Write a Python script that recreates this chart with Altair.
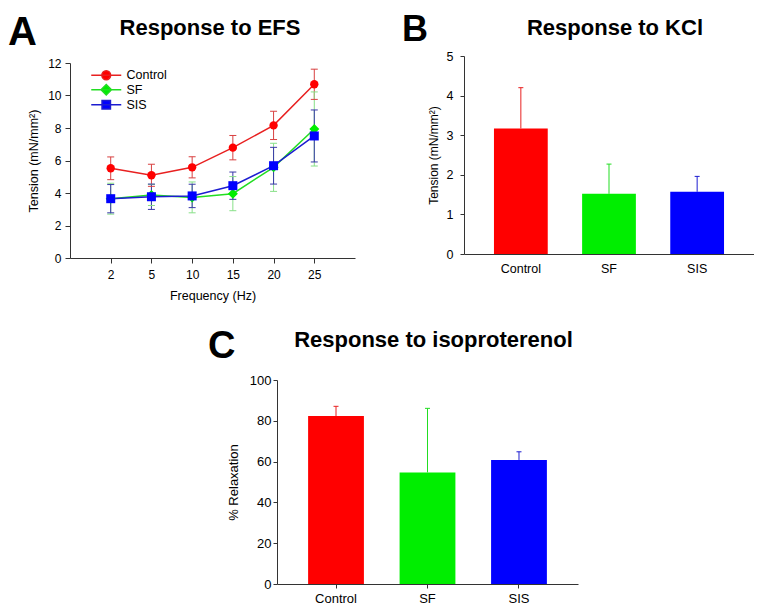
import altair as alt
import pandas as pd

FONT = "Liberation Sans"

# ---------------- data ----------------
series = ["Control", "SF", "SIS"]
freqs = ["2", "5", "10", "15", "20", "25"]

efs_control = [5.52, 5.09, 5.58, 6.79, 8.16, 10.69]
efs_control_err = [0.70, 0.68, 0.65, 0.75, 0.87, 0.93]
efs_sf = [3.65, 3.88, 3.73, 3.96, 5.58, 7.94]
efs_sf_err = [0.95, 0.65, 0.95, 1.05, 1.48, 2.28]
efs_sis = [3.65, 3.77, 3.82, 4.45, 5.68, 7.51]
efs_sis_err = [0.87, 0.78, 0.72, 0.84, 1.13, 1.60]

kcl_mean = [3.17, 1.52, 1.57]
kcl_err = [1.03, 0.75, 0.39]

iso_mean = [82.3, 54.7, 60.8]
iso_err = [4.8, 31.4, 4.0]

# ---------------- styles ----------------
marker_colors = ["#ff0000", "#00ee00", "#0000ff"]
line_colors = ["#e82020", "#22dd22", "#1c1cd0"]
efs_err_colors = ["#d84040", "#88e088", "#3838a8"]
bar_colors = ["#ff0000", "#00ff00", "#0000ff"]
bar_err_colors = ["#b04a4a", "#90e890", "#5a5ab8"]
marker_shapes = ["circle", "diamond", "square"]
marker_sizes = [70, 100, 81]
legend_paths = [
    "M-3.75,0H3.75M-1.1,0A1.1,1.1,0,1,0,1.1,0A1.1,1.1,0,1,0,-1.1,0Z",
    "M-3.75,0H3.75M0,-1.3L1.3,0L0,1.3L-1.3,0Z",
    "M-3.75,0H3.75M-1.05,-1.05H1.05V1.05H-1.05Z",
]

# ---------------- panel A ----------------
rows, cap_rows = [], []
for s, means, errs in zip(series, [efs_control, efs_sf, efs_sis],
                          [efs_control_err, efs_sf_err, efs_sis_err]):
    for f, m, e in zip(freqs, means, errs):
        rows.append({"series": s, "freq": f, "mean": m, "lo": m - e, "hi": m + e})
        cap_rows.append({"series": s, "freq": f, "cap": m - e})
        cap_rows.append({"series": s, "freq": f, "cap": m + e})
efs_df = pd.DataFrame(rows)
cap_df = pd.DataFrame(cap_rows)
one = pd.DataFrame({"k": [0]})

AW, AH = 285, 202
xA = alt.X("freq:O", sort=freqs, scale=alt.Scale(type="point", padding=1),
           axis=alt.Axis(title="Frequency (Hz)", labelAngle=0, tickSize=5, labelPadding=6,
                         titleY=41, titleBaseline="alphabetic",
                         labelFontSize=12, titleFontSize=12.5))


def yA(field):
    return alt.Y(field, scale=alt.Scale(domain=[0, 12], nice=False, range=[AH, 7]),
                 axis=alt.Axis(title="Tension (mN/mm²)", values=[0, 2, 4, 6, 8, 10, 12],
                               tickSize=5, labelPadding=4, titleX=-30,
                               labelFontSize=12, titleFontSize=12.5))


a_lines, a_rules, a_caps, a_marks = [], [], [], []
for i, s in enumerate(series):
    a_lines.append(alt.Chart(efs_df).transform_filter(alt.datum.series == s)
                   .mark_line(color=line_colors[i], strokeWidth=1.5)
                   .encode(x=xA, y=yA("mean:Q")))
    a_rules.append(alt.Chart(efs_df).transform_filter(alt.datum.series == s)
                   .mark_rule(color=efs_err_colors[i], strokeWidth=1)
                   .encode(x=xA, y=yA("lo:Q"), y2="hi:Q"))
    a_caps.append(alt.Chart(cap_df).transform_filter(alt.datum.series == s)
                  .mark_point(shape="stroke", size=49, color=efs_err_colors[i],
                              strokeWidth=1, opacity=1, filled=False)
                  .encode(x=xA, y=yA("cap:Q")))
    a_marks.append(alt.Chart(efs_df).transform_filter(alt.datum.series == s)
                   .mark_point(shape=marker_shapes[i], size=marker_sizes[i], filled=True,
                               color=marker_colors[i], opacity=1)
                   .encode(x=xA, y=yA("mean:Q")))

leg = alt.Legend(title=None, orient="none", legendX=15, legendY=13, symbolSize=64,
                 symbolStrokeWidth=1.5, symbolOffset=15, labelOffset=14,
                 labelFont=FONT, labelFontSize=12.5, labelColor="#000000",
                 rowPadding=-1.5, padding=0)
keeper = (alt.Chart(efs_df).transform_filter("false")
          .mark_point(filled=True, size=64, strokeWidth=1.5, opacity=1)
          .encode(x=xA, y=yA("mean:Q"),
                  color=alt.Color("series:N", scale=alt.Scale(domain=series, range=marker_colors), legend=leg),
                  stroke=alt.Stroke("series:N", scale=alt.Scale(domain=series, range=line_colors), legend=leg),
                  shape=alt.Shape("series:N", scale=alt.Scale(domain=series, range=legend_paths), legend=leg)))

# invisible rule fixing the top edge of the first row
top_anchor = alt.Chart(one).mark_rule(strokeOpacity=0, strokeWidth=1).encode(
    x=alt.value(0), x2=alt.value(10), y=alt.value(-47.5), y2=alt.value(-47.5))

letterA = alt.Chart(one).mark_text(text="A", font=FONT, fontSize=40, fontWeight="bold",
                                   align="left", baseline="alphabetic", color="#000000").encode(
    x=alt.value(-62), y=alt.value(-11))
titleA = alt.Chart(one).mark_text(text="Response to EFS", font=FONT, fontSize=22, fontWeight="bold",
                                  align="center", baseline="alphabetic", color="#000000").encode(
    x=alt.value(140), y=alt.value(-21))

panelA = alt.layer(*a_lines, *a_rules, *a_caps, *a_marks, keeper, top_anchor, letterA, titleA).properties(
    width=AW, height=AH)

# ---------------- panel B ----------------
kcl_df = pd.DataFrame({"group": series, "mean": kcl_mean,
                       "top": [m + e for m, e in zip(kcl_mean, kcl_err)]})
BW, BH = 290, 198
xB = alt.X("group:N", sort=series, scale=alt.Scale(paddingInner=0.39, paddingOuter=0.34),
           axis=alt.Axis(title=None, labelAngle=0, ticks=False, tickSize=0, labelPadding=8,
                         labelFontSize=12.5))


def yB(field):
    return alt.Y(field, scale=alt.Scale(domain=[0, 5], nice=False),
                 axis=alt.Axis(title="Tension (mN/mm²)", values=[0, 1, 2, 3, 4, 5], tickSize=4,
                               labelPadding=7, titleX=-24, labelFontSize=12.5, titleFontSize=12))


b_bars = alt.Chart(kcl_df).mark_bar(opacity=1).encode(
    x=xB, y=yB("mean:Q"),
    color=alt.Color("group:N", scale=alt.Scale(domain=series, range=bar_colors), legend=None))
b_err = alt.Chart(kcl_df).mark_rule(strokeWidth=1).encode(
    x=xB, y=yB("mean:Q"), y2="top:Q",
    stroke=alt.Stroke("group:N", scale=alt.Scale(domain=series, range=bar_err_colors), legend=None))
b_cap = alt.Chart(kcl_df).mark_point(shape="stroke", size=25, strokeWidth=1, opacity=1).encode(
    x=xB, y=yB("top:Q"),
    stroke=alt.Stroke("group:N", scale=alt.Scale(domain=series, range=bar_err_colors), legend=None))
letterB = alt.Chart(one).mark_text(text="B", font=FONT, fontSize=36, fontWeight="bold",
                                   align="left", baseline="alphabetic", color="#000000").encode(
    x=alt.value(-62), y=alt.value(-15))
titleB = alt.Chart(one).mark_text(text="Response to KCl", font=FONT, fontSize=22, fontWeight="bold",
                                  align="center", baseline="alphabetic", color="#000000").encode(
    x=alt.value(151), y=alt.value(-21))
panelB = alt.layer(b_bars, b_err, b_cap, letterB, titleB).properties(width=BW, height=BH)

# ---------------- panel C ----------------
iso_df = pd.DataFrame({"group": series, "mean": iso_mean,
                       "top": [m + e for m, e in zip(iso_mean, iso_err)]})
C_OFF = 207          # C plot starts this far right of A's plot origin
CW, CH = C_OFF + 301, 204
xC = alt.X("group:N", sort=series,
           scale=alt.Scale(paddingInner=0.39, paddingOuter=0.34, range=[C_OFF, CW]),
           axis=alt.Axis(title=None, labelAngle=0, tickSize=4, labelPadding=4, labelFontSize=13))


def yC(field):
    return alt.Y(field, scale=alt.Scale(domain=[0, 100], nice=False),
                 axis=alt.Axis(title="% Relaxation", values=[0, 20, 40, 60, 80, 100], tickSize=4,
                               labelPadding=2, titleX=-37, labelFontSize=13, titleFontSize=13,
                               offset=-C_OFF))


c_bars = alt.Chart(iso_df).mark_bar(opacity=1).encode(
    x=xC, y=yC("mean:Q"),
    color=alt.Color("group:N", scale=alt.Scale(domain=series, range=bar_colors), legend=None))
c_err = alt.Chart(iso_df).mark_rule(strokeWidth=1).encode(
    x=xC, y=yC("mean:Q"), y2="top:Q",
    stroke=alt.Stroke("group:N", scale=alt.Scale(domain=series, range=bar_err_colors), legend=None))
c_cap = alt.Chart(iso_df).mark_point(shape="stroke", size=25, strokeWidth=1, opacity=1).encode(
    x=xC, y=yC("top:Q"),
    stroke=alt.Stroke("group:N", scale=alt.Scale(domain=series, range=bar_err_colors), legend=None))
letterC = alt.Chart(one).mark_text(text="C", font=FONT, fontSize=38, fontWeight="bold",
                                   align="left", baseline="alphabetic", color="#000000").encode(
    x=alt.value(C_OFF - 69), y=alt.value(-22))
titleC = alt.Chart(one).mark_text(text="Response to isoproterenol", font=FONT, fontSize=22,
                                  fontWeight="bold", align="center", baseline="alphabetic",
                                  color="#000000").encode(x=alt.value(C_OFF + 156.5), y=alt.value(-33))
panelC = alt.layer(c_bars, c_err, c_cap, letterC, titleC).properties(width=CW, height=CH)

top = alt.hconcat(panelA, panelB, spacing=47)
chart = (alt.vconcat(top, panelC, spacing=26)
         .properties(padding=0)
         .configure_view(strokeWidth=0)
         .configure_axis(grid=False, domainColor="#333333", tickColor="#333333",
                         labelColor="#000000", titleColor="#000000", labelFont=FONT,
                         titleFont=FONT, titleFontWeight="normal", domainWidth=1, tickWidth=1))

chart.save("out.html", embed_options={"renderer": "svg", "actions": False})
